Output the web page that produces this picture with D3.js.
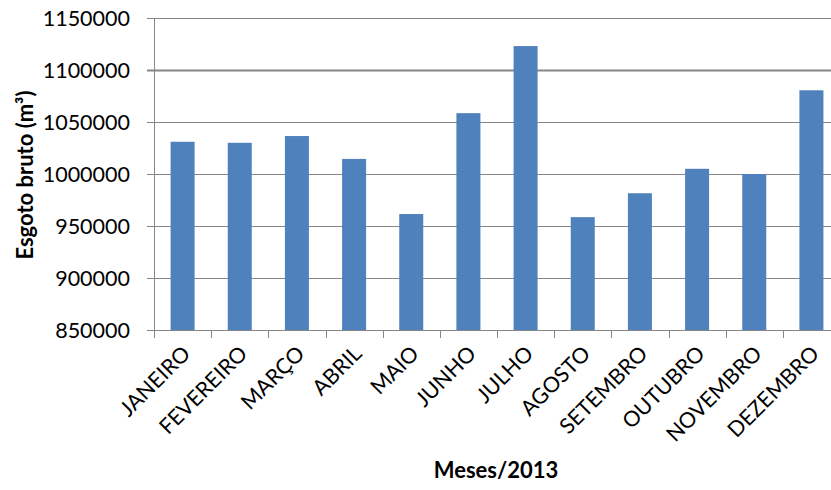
<!DOCTYPE html>
<html>
<head>
<meta charset="utf-8">
<script src="https://cdn.jsdelivr.net/npm/d3@7"></script>
<style>
  body { margin: 0; background: #fff; }
  text { font-family: Lato, "Open Sans", sans-serif; fill: #000; }
</style>
</head>
<body>
<div id="chart"></div>
<script>
// months of 2013
var months = ["JANEIRO", "FEVEREIRO", "MARÇO", "ABRIL", "MAIO", "JUNHO",
  "JULHO", "AGOSTO", "SETEMBRO", "OUTUBRO", "NOVEMBRO", "DEZEMBRO"];

// esgoto bruto (m3)
var volumes = [1031000, 1030000, 1036500, 1014500, 961500, 1058500,
  1123000, 958500, 981500, 1005000, 1000000, 1080500];

var yTicks = [850000, 900000, 950000, 1000000, 1050000, 1100000, 1150000];

var width = 831, height = 490;

var svg = d3.select("#chart")
  .append("svg")
  .attr("width", width)
  .attr("height", height);

// x scale, the plot runs a little past the right edge
var x = d3.scaleBand()
  .domain(months)
  .range([154, 840]);

var y = d3.scaleLinear()
  .domain([850000, 1150000])
  .range([330, 18]);

// gridlines
svg.append("g")
  .selectAll("line")
  .data(yTicks)
  .enter()
  .append("line")
  .attr("x1", 147)
  .attr("x2", 840)
  .attr("y1", d => Math.round(y(d)) + 0.5)
  .attr("y2", d => Math.round(y(d)) + 0.5)
  .attr("stroke", "#868686")
  .attr("stroke-width", d => d == 1100000 ? 2 : 1);

// y labels
svg.append("g")
  .selectAll("text")
  .data(yTicks)
  .enter()
  .append("text")
  .attr("x", 130)
  .attr("y", d => y(d) + 8)
  .attr("text-anchor", "end")
  .style("font-size", "21.5px")
  .text(d => d);

// bars
var barW = x.bandwidth() * 0.42;
svg.append("g")
  .selectAll("rect")
  .data(volumes)
  .enter()
  .append("rect")
  .attr("x", (d, i) => x(months[i]) + (x.bandwidth() - barW) / 2)
  .attr("y", d => y(d))
  .attr("width", barW)
  .attr("height", d => y(850000) - y(d))
  .attr("fill", "#4F81BD");

// y axis line
svg.append("line")
  .attr("x1", 154.5).attr("x2", 154.5)
  .attr("y1", y(1150000)).attr("y2", y(850000))
  .attr("stroke", "#868686");

// x axis with ticks between the months
var xAxis = svg.append("g");
xAxis.append("line")
  .attr("x1", 147).attr("x2", 840)
  .attr("y1", 330.5).attr("y2", 330.5)
  .attr("stroke", "#868686");
xAxis.selectAll(".tk")
  .data(months.concat(["end"]))
  .enter()
  .append("line")
  .attr("x1", (d, i) => Math.round(154 + i * x.step()) + 0.5)
  .attr("x2", (d, i) => Math.round(154 + i * x.step()) + 0.5)
  .attr("y1", 330)
  .attr("y2", 338)
  .attr("stroke", "#868686");

// month labels at -45 degrees
xAxis.selectAll(".lbl")
  .data(months)
  .enter()
  .append("text")
  .attr("text-anchor", "end")
  .attr("transform", d => "translate(" + (x(d) + x.bandwidth() / 2 + 9) + ",355) rotate(-45)")
  .style("font-size", "21.5px")
  .text(d => d);

// axis titles
svg.append("text")
  .attr("x", 496)
  .attr("y", 478)
  .attr("text-anchor", "middle")
  .style("font-size", "22px")
  .style("font-weight", "bold")
  .text("Meses/2013");

svg.append("text")
  .attr("transform", "translate(33,175) rotate(-90)")
  .attr("text-anchor", "middle")
  .style("font-size", "22px")
  .style("font-weight", "bold")
  .text("Esgoto bruto (m³)");
</script>
</body>
</html>
